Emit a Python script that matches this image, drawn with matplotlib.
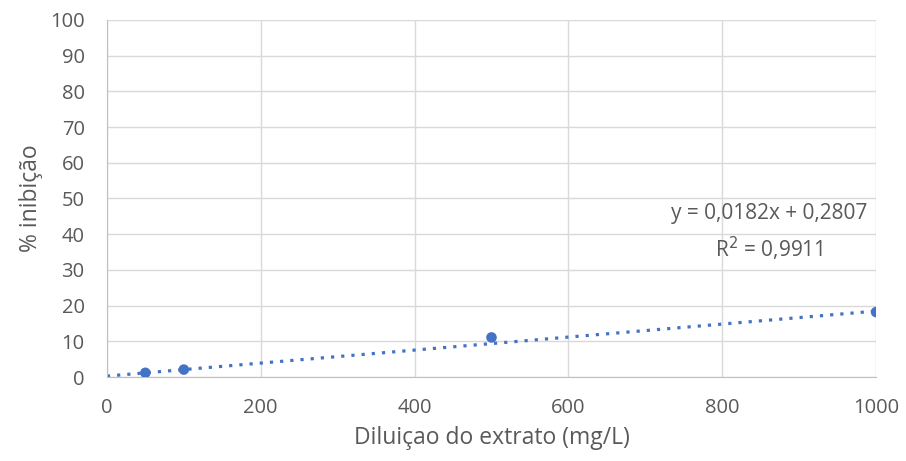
import matplotlib.pyplot as plt
import numpy as np

# concentração do extrato e % de inibição medida
diluicao = [50, 100, 500, 1000]
inibicao = [1.2, 2.1, 11.1, 18.2]

# linha de tendência (ajuste linear)
slope = 0.0182
intercept = 0.2807
r2 = 0.9911

blue = '#4472C4'
gray = '#595959'

plt.rcParams['font.family'] = ['Open Sans', 'DejaVu Sans']

fig = plt.figure(figsize=(9.06, 4.61), dpi=100)
ax = fig.add_axes([0.118, 0.182, 0.849, 0.775])

xt = np.linspace(0, 1000, 200)
ax.plot(xt, slope * xt + intercept, color=blue, lw=2.3, ls=(0, (1, 2.2)),
        dash_capstyle='butt', zorder=2)
ax.scatter(diluicao, inibicao, s=58, color=blue, zorder=3, edgecolors='none')

ax.set_xlim(0, 1000)
ax.set_ylim(0, 100)
ax.set_xticks(range(0, 1001, 200))
ax.set_yticks(range(0, 101, 10))
ax.grid(True, color='#D9D9D9', lw=1)
ax.set_axisbelow(True)
ax.tick_params(length=0, labelsize=14.5, colors=gray)
ax.tick_params(axis='y', pad=16)
ax.tick_params(axis='x', pad=15)
for s in ['top', 'right']:
    ax.spines[s].set_visible(False)
for s in ['left', 'bottom']:
    ax.spines[s].set_color('#BFBFBF')

ax.set_xlabel('Diluiçao do extrato (mg/L)', fontsize=16.5, color=gray, labelpad=6)
ax.set_ylabel('% inibição', fontsize=16.5, color=gray, labelpad=5)

eq = f'y = {slope:.4f}x + {intercept:.4f}'.replace('.', ',')
r2txt = f'R$^2$ = {r2:.4f}'.replace('.', ',')
ax.text(861, 40.4, eq + '\n' + r2txt, ha='center', va='center', fontsize=15,
        color=gray, linespacing=1.5)

fig.savefig('out.png', dpi=100)
